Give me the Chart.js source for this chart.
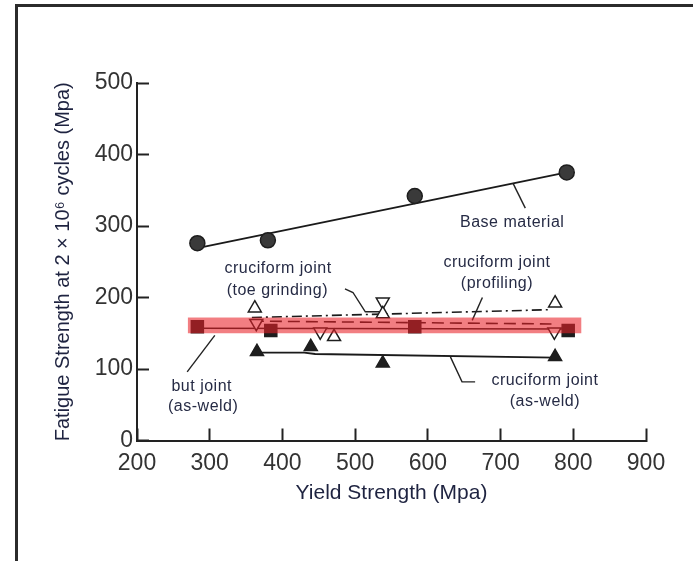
<!DOCTYPE html>
<html>
<head>
<meta charset="utf-8">
<script src="https://cdn.jsdelivr.net/npm/chart.js@4.4.1/dist/chart.umd.min.js"></script>
<style>
    html, body { margin: 0; padding: 0; background: #fff; }
    #wrap { position: relative; width: 693px; height: 561px; overflow: hidden; }
    #frame {
        position: absolute; left: 15px; top: 4px; width: 690px; height: 570px;
        border-top: 3px solid #2b2b2b; border-left: 3px solid #2b2b2b;
    }
    canvas { position: absolute; left: 0; top: 0; }
</style>
</head>
<body>
<div id="wrap">
    <div id="frame"></div>
    <canvas id="fatigueChart" width="693" height="561"></canvas>
</div>
<script>
// tick labels
const xTicks = [200, 300, 400, 500, 600, 700, 800, 900];
const yTicks = [0, 100, 200, 300, 400, 500];

// base material (filled circles) + its fitted line
const baseX = [283, 380, 582, 791];
const baseY = [276, 280, 342, 375];
const baseFitX = [283, 791];
const baseFitY = [269, 375];

// cruciform joint (toe grinding), open triangles up
const toeX = [362, 471, 538, 775];
const toeY = [185, 145, 177, 192];
const toeFitX = [358, 770];
const toeFitY = [172, 183];

// cruciform joint (profiling), open triangles down
const profX = [364, 452, 538, 774];
const profY = [164, 152, 194, 152];
const profFitX = [358, 770];
const profFitY = [167, 163];

// but joint (as-weld), filled squares
const buttX = [283, 384, 582, 793];
const buttY = [159, 154, 159, 154];
const buttFitX = [283, 793];
const buttFitY = [157, 156];

// cruciform joint (as-weld), filled triangles
const asWeldX = [365, 439, 538, 775];
const asWeldY = [124, 131, 108, 117];
const asWeldFitX = [365, 430, 445, 775];
const asWeldFitY = [123, 123, 121, 116];

// red highlight band
const highlightX = [270, 811];
const highlightY = [150, 172];

// labels and leader lines, in axis units
const notes = [
    { text: "Base material", x: 716, y: 305 },
    { text: "cruciform joint", x: 394, y: 241 },
    { text: "(toe grinding)", x: 393, y: 210 },
    { text: "cruciform joint", x: 695, y: 249 },
    { text: "(profiling)", x: 695, y: 220 },
    { text: "cruciform joint", x: 761, y: 84 },
    { text: "(as-weld)", x: 761, y: 54 },
    { text: "but joint", x: 289, y: 76 },
    { text: "(as-weld)", x: 291, y: 47 }
];
const leaders = [
    [[717, 360], [734, 325]],
    [[486, 212], [497, 207], [514, 180], [534, 180]],
    [[675, 200], [661, 168]],
    [[631, 117], [647, 82], [665, 82]],
    [[269, 96], [307, 147]]
];

const toPoints = (xs, ys) => xs.map((x, i) => ({ x: x, y: ys[i] }));

function markerSet(xs, ys, style, extra) {
    return Object.assign({
        data: toPoints(xs, ys),
        showLine: false,
        pointStyle: style,
        borderColor: "#1e1e1e",
        pointBorderWidth: 1.5
    }, extra);
}

function lineSet(xs, ys, dash, width) {
    return {
        data: toPoints(xs, ys),
        showLine: true,
        pointRadius: 0,
        borderColor: "#1a1a1a",
        borderWidth: width,
        borderDash: dash
    };
}

const notesPlugin = {
    id: "notes",
    afterDatasetsDraw(chart) {
        const { ctx, scales: { x, y } } = chart;
        ctx.save();

        // leader lines
        ctx.strokeStyle = "#222";
        ctx.lineWidth = 1.4;
        leaders.forEach(path => {
            ctx.beginPath();
            path.forEach((p, i) => {
                const px = x.getPixelForValue(p[0]);
                const py = y.getPixelForValue(p[1]);
                if (i === 0) ctx.moveTo(px, py); else ctx.lineTo(px, py);
            });
            ctx.stroke();
        });

        // label texts
        ctx.fillStyle = "#262b45";
        ctx.font = '16px "Liberation Sans", Arial, sans-serif';
        ctx.letterSpacing = "0.5px";
        ctx.textAlign = "center";
        ctx.textBaseline = "middle";
        notes.forEach(n => {
            ctx.fillText(n.text, x.getPixelForValue(n.x), y.getPixelForValue(n.y));
        });

        // red highlight band on top of everything
        const left = x.getPixelForValue(highlightX[0]);
        const right = x.getPixelForValue(highlightX[1]);
        const top = y.getPixelForValue(highlightY[1]);
        const bottom = y.getPixelForValue(highlightY[0]);
        ctx.fillStyle = "rgba(232, 32, 40, 0.58)";
        ctx.fillRect(left, top, right - left, bottom - top);

        ctx.restore();
    }
};

const ctx = document.getElementById("fatigueChart").getContext("2d");

new Chart(ctx, {
    type: "scatter",
    data: {
        datasets: [
            markerSet(baseX, baseY, "circle", { pointRadius: 7.5, backgroundColor: "#3a3a3a" }),
            markerSet(toeX, toeY, "triangle", { pointRadius: 7.5, backgroundColor: "#fff" }),
            markerSet(profX, profY, "triangle", { pointRadius: 7.5, backgroundColor: "#fff", pointRotation: 180 }),
            markerSet(buttX, buttY, "rect", { pointRadius: 8.5, backgroundColor: "#1e1e1e" }),
            markerSet(asWeldX, asWeldY, "triangle", { pointRadius: 7.5, backgroundColor: "#1e1e1e" }),
            lineSet(baseFitX, baseFitY, [], 1.8),
            lineSet(toeFitX, toeFitY, [10, 4, 2, 4], 1.6),
            lineSet(profFitX, profFitY, [12, 6], 1.6),
            lineSet(buttFitX, buttFitY, [], 1.5),
            lineSet(asWeldFitX, asWeldFitY, [], 1.8)
        ]
    },
    options: {
        responsive: false,
        animation: false,
        layout: {
            padding: { top: 83, right: 47, bottom: 0, left: 0 }
        },
        plugins: {
            legend: { display: false },
            tooltip: { enabled: false }
        },
        scales: {
            x: {
                type: "linear",
                min: 200,
                max: 900,
                afterBuildTicks: scale => { scale.ticks = xTicks.map(v => ({ value: v })); },
                afterFit: scale => { scale.height = 120.5; },
                ticks: {
                    color: "#333",
                    font: { family: "Liberation Sans", size: 23 },
                    padding: 21,
                    maxRotation: 0
                },
                grid: {
                    drawOnChartArea: false,
                    drawTicks: true,
                    tickLength: -12,
                    tickColor: "#222",
                    tickWidth: 2
                },
                border: { display: true, color: "#222", width: 2 },
                title: {
                    display: true,
                    text: "Yield Strength (Mpa)",
                    color: "#1e2340",
                    font: { family: "Liberation Sans", size: 21 },
                    padding: { top: 0, bottom: 55 }
                }
            },
            y: {
                type: "linear",
                min: 0,
                max: 500,
                afterBuildTicks: scale => { scale.ticks = yTicks.map(v => ({ value: v })); },
                afterFit: scale => { scale.width = 137; },
                ticks: {
                    color: "#333",
                    font: { family: "Liberation Sans", size: 23 },
                    padding: 16
                },
                grid: {
                    drawOnChartArea: false,
                    drawTicks: true,
                    tickLength: -12,
                    tickColor: "#222",
                    tickWidth: 2
                },
                border: { display: true, color: "#222", width: 2 },
                title: {
                    display: true,
                    text: "Fatigue Strength at 2 × 10⁶ cycles (Mpa)",
                    color: "#1e2340",
                    font: { family: "Liberation Sans", size: 20 },
                    padding: { top: 51, bottom: 0 }
                }
            }
        }
    },
    plugins: [notesPlugin]
});
</script>
</body>
</html>
